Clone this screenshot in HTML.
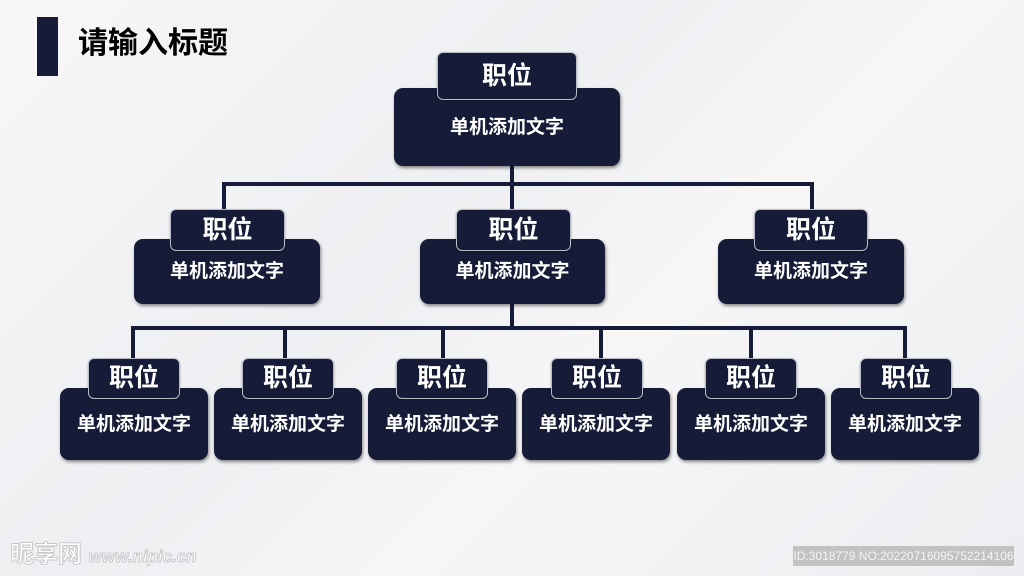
<!DOCTYPE html>
<html><head><meta charset="utf-8"><style>
*{margin:0;padding:0;box-sizing:border-box}
body{width:1024px;height:576px;overflow:hidden;position:relative;background:linear-gradient(135deg,#f7f7f8 0%,#eeeff2 40%,#f6f6f7 60%,#eceef1 100%);font-family:"Liberation Sans","Noto Sans CJK SC",sans-serif}
.a{position:absolute}
.box{position:absolute;background:#161b38;border-radius:9px;box-shadow:1px 2px 3px rgba(0,0,0,.45);color:#fff;font-weight:bold;text-align:center}
.tag{position:absolute;background:#161b38;border:1.5px solid #b8bcc8;border-radius:6px;color:#fff;font-weight:bold;text-align:center;z-index:2;box-shadow:0 1px 2px rgba(0,0,0,.3)}
.l{position:absolute;background:#161b38}
</style></head><body>
<div class="a" style="left:37px;top:17px;width:21px;height:59px;background:#161b38"></div>
<div class="a" style="left:78px;top:24px;font-size:30px;font-weight:bold;color:#000;line-height:40px">请输入标题</div>

<div class="l" style="left:510px;top:160px;width:4px;height:52px"></div>
<div class="l" style="left:222px;top:182px;width:592px;height:4px"></div>
<div class="l" style="left:222px;top:182px;width:4px;height:30px"></div>
<div class="l" style="left:810px;top:182px;width:4px;height:30px"></div>
<div class="l" style="left:510px;top:300px;width:4px;height:30px"></div>
<div class="l" style="left:131px;top:326px;width:776px;height:4px"></div>
<div class="l" style="left:131px;top:326px;width:4px;height:34px"></div>
<div class="l" style="left:283px;top:326px;width:4px;height:34px"></div>
<div class="l" style="left:441px;top:326px;width:4px;height:34px"></div>
<div class="l" style="left:599px;top:326px;width:4px;height:34px"></div>
<div class="l" style="left:749px;top:326px;width:4px;height:34px"></div>
<div class="l" style="left:903px;top:326px;width:4px;height:34px"></div>

<div class="box" style="left:394px;top:88px;width:226px;height:78px;font-size:19px;line-height:80px">单机添加文字</div>
<div class="tag" style="left:437px;top:52px;width:140px;height:48px;font-size:25px;line-height:46px">职位</div>

<div class="box" style="left:134px;top:239px;width:186px;height:65px;font-size:19px;line-height:66px">单机添加文字</div>
<div class="tag" style="left:170px;top:209px;width:115px;height:42px;font-size:25px;line-height:40px">职位</div>
<div class="box" style="left:420px;top:239px;width:185px;height:65px;font-size:19px;line-height:66px">单机添加文字</div>
<div class="tag" style="left:456px;top:209px;width:115px;height:42px;font-size:25px;line-height:40px">职位</div>
<div class="box" style="left:718px;top:239px;width:186px;height:65px;font-size:19px;line-height:66px">单机添加文字</div>
<div class="tag" style="left:754px;top:209px;width:114px;height:42px;font-size:25px;line-height:40px">职位</div>

<div class="box" style="left:60px;top:388px;width:148px;height:72px;font-size:19px;line-height:74px">单机添加文字</div>
<div class="tag" style="left:88px;top:358px;width:92px;height:41px;font-size:25px;line-height:39px">职位</div>
<div class="box" style="left:214px;top:388px;width:148px;height:72px;font-size:19px;line-height:74px">单机添加文字</div>
<div class="tag" style="left:242px;top:358px;width:92px;height:41px;font-size:25px;line-height:39px">职位</div>
<div class="box" style="left:368px;top:388px;width:148px;height:72px;font-size:19px;line-height:74px">单机添加文字</div>
<div class="tag" style="left:396px;top:358px;width:92px;height:41px;font-size:25px;line-height:39px">职位</div>
<div class="box" style="left:522px;top:388px;width:148px;height:72px;font-size:19px;line-height:74px">单机添加文字</div>
<div class="tag" style="left:551px;top:358px;width:92px;height:41px;font-size:25px;line-height:39px">职位</div>
<div class="box" style="left:677px;top:388px;width:148px;height:72px;font-size:19px;line-height:74px">单机添加文字</div>
<div class="tag" style="left:705px;top:358px;width:92px;height:41px;font-size:25px;line-height:39px">职位</div>
<div class="box" style="left:831px;top:388px;width:148px;height:72px;font-size:19px;line-height:74px">单机添加文字</div>
<div class="tag" style="left:860px;top:358px;width:92px;height:41px;font-size:25px;line-height:39px">职位</div>

<div class="a" style="left:10px;top:540px;font-size:24px;font-weight:bold;color:#fff;-webkit-text-stroke:1px #c8c8cc;line-height:30px">昵享网 <span style="font-size:17px;font-style:italic">www.nipic.cn</span></div>
<div class="a" style="left:793px;top:546px;width:221px;height:20px;background:#c2c2c2;color:#f4f4f4;font-size:12px;line-height:20px;text-align:center">ID:3018779 NO:20220716095752214106</div>
</body></html>
